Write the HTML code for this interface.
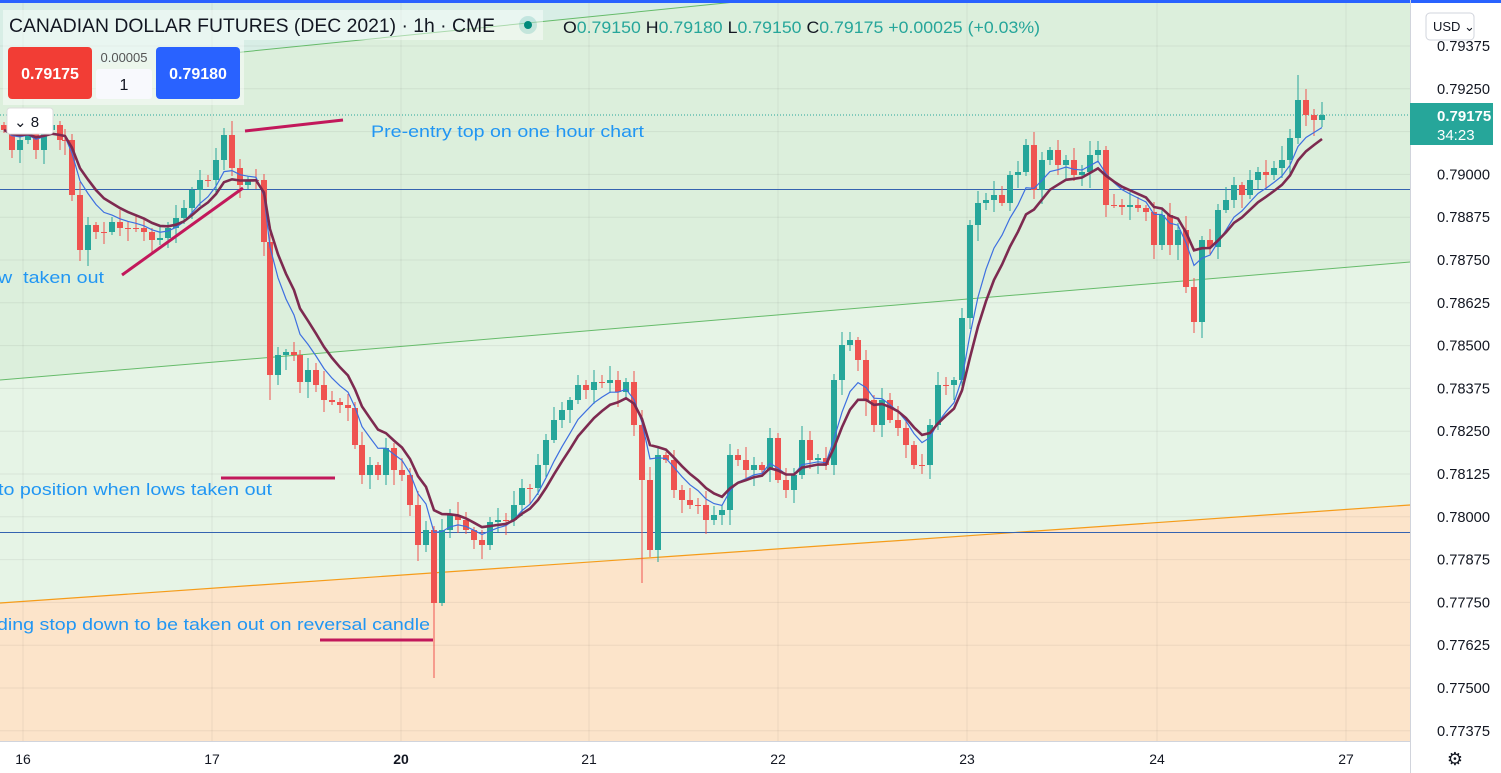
<!DOCTYPE html><html><head><meta charset="utf-8"><style>
body{margin:0;width:1501px;height:773px;overflow:hidden;background:#fff;font-family:"Liberation Sans",sans-serif}
svg{position:absolute;left:0;top:0}
</style></head><body>
<svg id="s" width="1501" height="773" xmlns="http://www.w3.org/2000/svg">
<rect x="0" y="0" width="1501" height="773" fill="#fff"/>
<polygon points="0,0 1410,0 1410,262 0,380" fill="#dcefdc"/>
<polygon points="0,380 1410,262 1410,505 0,603" fill="#e6f4e6"/>
<polygon points="0,603 1410,505 1410,741 0,741" fill="#fce4ca"/>
<polygon points="0,0 755,0 183,58 0,70" fill="#d8eee6"/>
<g id="grid" stroke="#000" stroke-opacity="0.06" stroke-width="1"></g>
<line x1="0" y1="380" x2="1410" y2="262" stroke="#66bb6a" stroke-width="1"/>
<line x1="183" y1="58" x2="755" y2="0" stroke="#66bb6a" stroke-width="1"/>
<line x1="0" y1="603" x2="1410" y2="505" stroke="#f59c1a" stroke-width="1.2"/>
<line x1="0" y1="189.5" x2="1410" y2="189.5" stroke="#3563b0" stroke-width="1"/>
<line x1="0" y1="532.5" x2="1410" y2="532.5" stroke="#3563b0" stroke-width="1"/>
<line x1="0" y1="115" x2="1410" y2="115" stroke="#26a69a" stroke-width="1" stroke-dasharray="1,2"/>
<g id="c"></g>
<g id="ma"></g>
<g stroke="#c2185b" stroke-width="3">
<line x1="245" y1="131" x2="343" y2="120"/>
<line x1="122" y1="275" x2="243" y2="188"/>
<line x1="221" y1="478" x2="335" y2="478"/>
<line x1="320" y1="640" x2="433" y2="640"/>
</g>
<g fill="#2196f3" font-size="17">
<text x="371" y="137" textLength="273" lengthAdjust="spacingAndGlyphs">Pre-entry top on one hour chart</text>
<text x="-2" y="283" textLength="106" lengthAdjust="spacingAndGlyphs" xml:space="preserve">w  taken out</text>
<text x="-2" y="495" textLength="274" lengthAdjust="spacingAndGlyphs">to position when lows taken out</text>
<text x="-3" y="630" textLength="433" lengthAdjust="spacingAndGlyphs">ding stop down to be taken out on reversal candle</text>
</g>
<rect x="3" y="10" width="540" height="30" fill="#fff" fill-opacity="0.45"/>
<rect x="3" y="40" width="241" height="65" fill="#fff" fill-opacity="0.45"/>
<text x="9" y="32" font-size="19" fill="#131722" textLength="486" lengthAdjust="spacingAndGlyphs">CANADIAN DOLLAR FUTURES (DEC 2021) · 1h · CME</text>
<circle cx="528" cy="25" r="9" fill="#26a69a" fill-opacity="0.2"/><circle cx="528" cy="25" r="4" fill="#00897b"/>
<text x="563" y="33" font-size="17" fill="#26a69a" textLength="477" lengthAdjust="spacingAndGlyphs"><tspan fill="#131722">O</tspan>0.79150 <tspan fill="#131722">H</tspan>0.79180 <tspan fill="#131722">L</tspan>0.79150 <tspan fill="#131722">C</tspan>0.79175 +0.00025 (+0.03%)</text>
<rect x="8" y="47" width="84" height="52" rx="4" fill="#f23d35"/>
<text x="50" y="79" font-size="16" font-weight="bold" fill="#fff" text-anchor="middle">0.79175</text>
<rect x="156" y="47" width="84" height="52" rx="4" fill="#2962ff"/>
<text x="198" y="79" font-size="16" font-weight="bold" fill="#fff" text-anchor="middle">0.79180</text>
<text x="124" y="62" font-size="13" fill="#555" text-anchor="middle">0.00005</text>
<rect x="96" y="69" width="56" height="30" rx="3" fill="#f8f9fd"/>
<text x="124" y="90" font-size="16" fill="#131722" text-anchor="middle">1</text>
<rect x="7" y="108" width="46" height="26" rx="3" fill="#fff" stroke="#ddd"/>
<text x="14" y="127" font-size="15" fill="#131722">⌄ 8</text>
<rect x="0" y="0" width="1501" height="3" fill="#2962ff"/>
<rect x="1410" y="3" width="91" height="770" fill="#fff"/>
<line x1="1410.5" y1="0" x2="1410.5" y2="773" stroke="#d1d4dc"/>
<rect x="0" y="741" width="1410" height="32" fill="#fff"/>
<line x1="0" y1="741.5" x2="1410" y2="741.5" stroke="#d1d4dc"/>
<rect x="1426" y="13" width="48" height="27" rx="4" fill="#fff" stroke="#d1d4dc"/>
<text x="1433" y="31" font-size="13" fill="#131722">USD ⌄</text>
<g id="ax" font-size="15" fill="#131722"></g>
<rect x="1410" y="103" width="83" height="42" fill="#26a69a"/>
<text x="1437" y="121" font-size="15" font-weight="bold" fill="#fff">0.79175</text>
<text x="1437" y="140" font-size="15" fill="#fff">34:23</text>
<g font-size="14" fill="#131722" text-anchor="middle">
<text x="23" y="764">16</text><text x="212" y="764">17</text><text x="401" y="764" font-weight="bold">20</text>
<text x="589" y="764">21</text><text x="778" y="764">22</text><text x="967" y="764">23</text>
<text x="1157" y="764">24</text><text x="1346" y="764">27</text>
<text x="1455" y="765" font-size="18">⚙</text>
</g>
</svg>
<script>
var NS="http://www.w3.org/2000/svg";
function el(p,t,a){var e=document.createElementNS(NS,t);for(var k in a)e.setAttribute(k,a[k]);p.appendChild(e);return e;}
var g=document.getElementById('grid'),ax=document.getElementById('ax');
var prices=["0.79375","0.79250","0.79125","0.79000","0.78875","0.78750","0.78625","0.78500","0.78375","0.78250","0.78125","0.78000","0.77875","0.77750","0.77625","0.77500","0.77375"];
for(var i=0;i<17;i++){var y=46+i*42.8;el(g,'line',{x1:0,y1:y,x2:1410,y2:y});if(prices[i]!="0.79125"){var t=el(ax,'text',{x:1437,y:y+5,textLength:53,lengthAdjust:'spacingAndGlyphs'});t.textContent=prices[i];}}
[23,212,401,589,778,967,1157,1346].forEach(function(x){el(g,'line',{x1:x,y1:0,x2:x,y2:741});});
var cl=[[4,130],[12,150],[20,140],[28,130],[36,150],[44,130],[52,125],[60,140],[65,140],[72,195],[80,250],[88,225],[96,232],[104,232],[112,222],[120,228],[128,228],[136,228],[144,232],[152,240],[160,238],[168,228],[176,218],[184,208],[192,190],[200,180],[208,180],[216,160],[224,135],[232,168],[240,185],[248,180],[256,180],[264,242],[270,375],[278,355],[286,352],[294,355],[300,382],[308,370],[316,385],[324,400],[332,402],[340,405],[348,408],[355,445],[362,475],[370,465],[378,475],[386,448],[394,470],[402,475],[410,505],[418,545],[426,530],[434,603],[442,530],[450,515],[458,520],[466,530],[474,540],[482,545],[490,522],[498,520],[506,520],[514,505],[522,488],[530,488],[538,465],[546,440],[554,420],[562,410],[570,400],[578,385],[586,390],[594,382],[602,383],[610,380],[618,392],[626,382],[634,425],[642,480],[650,550],[658,455],[666,460],[674,490],[682,500],[690,505],[698,505],[706,520],[714,515],[722,510],[730,455],[738,460],[746,470],[754,465],[762,470],[770,438],[778,480],[786,490],[794,475],[802,440],[810,460],[818,458],[826,465],[834,380],[842,345],[850,340],[858,360],[866,400],[874,425],[882,400],[890,420],[898,428],[906,445],[914,465],[922,465],[930,425],[938,385],[946,385],[954,380],[962,318],[970,225],[978,203],[986,200],[994,195],[1002,203],[1010,175],[1018,172],[1026,145],[1034,190],[1042,160],[1050,150],[1058,165],[1066,160],[1074,175],[1082,172],[1090,155],[1098,150],[1106,205],[1114,205],[1122,207],[1130,205],[1138,208],[1146,212],[1154,245],[1162,215],[1170,245],[1178,230],[1186,287],[1194,322],[1202,240],[1210,247],[1218,210],[1226,200],[1234,185],[1242,195],[1250,180],[1258,172],[1266,175],[1274,168],[1282,160],[1290,138],[1298,100],[1306,115],[1314,120],[1322,115]];
var wk={434:[575,678],870:[263,450],1298:[75,140],642:[410,583],224:[128,170],270:[240,400]};
var c=document.getElementById('c');var prev=125;
cl.forEach(function(d,i){var x=d[0],o=prev,cc=d[1];var up=cc<o;var col=up?'#26a69a':'#ef5350';
 var hi=Math.min(o,cc)-(3+(i*7)%12),lo=Math.max(o,cc)+(3+(i*5)%14);
 if(wk[x]){hi=Math.min(hi,wk[x][0]);lo=Math.max(lo,wk[x][1]);}
 el(c,'line',{x1:x,y1:hi,x2:x,y2:lo,stroke:col,'stroke-width':1});
 el(c,'rect',{x:x-3,y:Math.min(o,cc),width:6,height:Math.max(1,Math.abs(o-cc)),fill:col});
 prev=cc;});
function ema(n){var a=2/(n+1),v=cl[0][1],out=[];cl.forEach(function(d){v=v+a*(d[1]-v);out.push([d[0],v]);});return out;}
var ma=document.getElementById('ma');
function pl(arr,col,w){el(ma,'polyline',{points:arr.map(function(p){return p[0]+','+p[1].toFixed(1);}).join(' '),fill:'none',stroke:col,'stroke-width':w});}
pl(ema(6),'#3d6fe0',1.2);pl(ema(9),'#7d2a50',2.6);
</script>
</body></html>
